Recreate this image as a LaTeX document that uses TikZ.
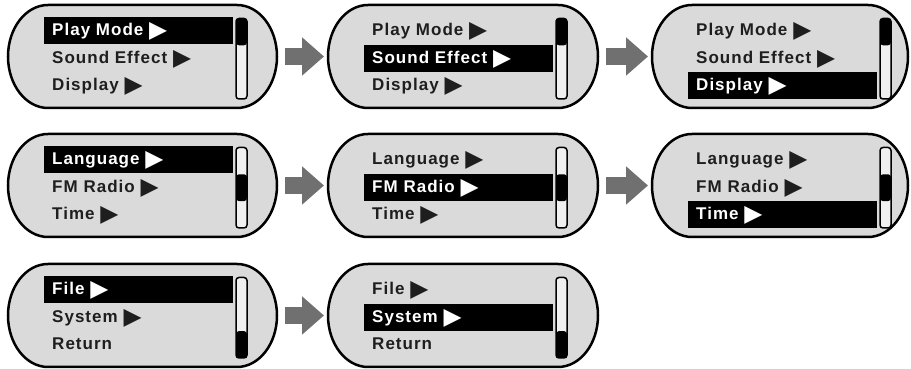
\documentclass[tikz,border=0pt]{standalone}
\usepackage{fontspec}
\usepackage{tikz}
\usetikzlibrary{arrows.meta, positioning}
\newfontfamily\lcdfont[LetterSpace=6]{Liberation Sans}
\newfontfamily\symfont{DejaVu Sans}
\definecolor{lcdgray}{RGB}{218, 218, 218}
\definecolor{arrowgray}{RGB}{112, 112, 112}
\definecolor{textdark}{RGB}{30, 30, 30}
\newcommand{\tri}{\hspace{5pt}\raisebox{-1.5pt}{\symfont\fontsize{20pt}{20pt}\selectfont ▶}}

\begin{document}
\begin{tikzpicture}[x=0.03cm, y=0.03cm,
  screen/.style={minimum height=3.09cm, inner sep=0pt, outer sep=0pt},
  frame/.style={draw=black, fill=lcdgray, line width=0.075cm},
  item/.style={anchor=base west, inner sep=0pt, font=\lcdfont\bfseries\fontsize{14.5pt}{14.5pt}\selectfont},
  selbar/.style={fill=black},
  scroll/.style={draw=black, fill=black!6, line width=0.045cm, rounded corners=0.09cm},
  flow/.style={arrowgray, line width=0.51cm, -{Triangle[length=0.66cm, width=1.11cm]}, shorten <=0.24cm, shorten >=0.12cm}]
\useasboundingbox (0,0) rectangle (911,369);

% Screens
\foreach \n/\cx/\cy/\w/\sel/\tb/\ia/\ib/\ic in {
  s11/142.5/312.5/269/1/1/Play Mode\tri/Sound Effect\tri/Display\tri,
  s12/463/312.5/270/2/1/Play Mode\tri/Sound Effect\tri/Display\tri,
  s13/780/312.5/256/3/1/Play Mode\tri/Sound Effect\tri/Display\tri,
  s21/142.5/183.5/269/1/2/Language\tri/FM Radio\tri/Time\tri,
  s22/463/183.5/270/2/2/Language\tri/FM Radio\tri/Time\tri,
  s23/780/183.5/256/3/2/Language\tri/FM Radio\tri/Time\tri,
  s31/142.5/53.5/269/1/3/File\tri/System\tri/Return,
  s32/463/53.5/270/2/3/File\tri/System\tri/Return}{
  \node[screen, minimum width=\w*0.03cm] (\n) at (\cx,\cy) {};
  \filldraw[frame] ([xshift=1.2cm]\n.north west) -- ([xshift=-1.2cm]\n.north east)
    arc[start angle=90, end angle=-90, x radius=1.2cm, y radius=1.545cm]
    -- ([xshift=1.2cm]\n.south west)
    arc[start angle=270, end angle=90, x radius=1.2cm, y radius=1.545cm] -- cycle;
  % menu lines
  \foreach \row/\txt in {1/\ia, 2/\ib, 3/\ic}{
    \ifnum\row=\sel
      \fill[selbar] ([shift={(36,-12.5-27.5*\row+27.5)}]\n.north west) rectangle ++(189,-27);
      \node[item, text=white] (\n\row) at ([shift={(44,-3.5-27.5*\row)}]\n.north west) {\txt};
    \else
      \node[item, text=textdark] (\n\row) at ([shift={(44,-3.5-27.5*\row)}]\n.north west) {\txt};
    \fi
  }
  % scroll bar
  \draw[scroll] ([shift={(228,-13.5)}]\n.north west) rectangle ([shift={(239,-94)}]\n.north west);
  \fill[rounded corners=0.09cm] ([shift={(228,-13.5-26.8*\tb+26.8)}]\n.north west) rectangle ++(11,-26.8);
}

% Arrows
\foreach \a/\b in {s11/s12, s12/s13, s21/s22, s22/s23, s31/s32}
  \draw[flow] (\a) -- (\b);
\end{tikzpicture}
\end{document}
